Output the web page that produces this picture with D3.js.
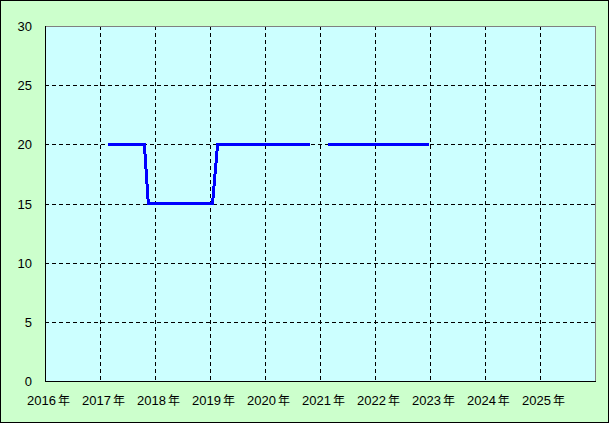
<!DOCTYPE html>
<html><head><meta charset="utf-8">
<script src="https://cdn.jsdelivr.net/npm/d3@7"></script>
<style>body{margin:0;padding:0;background:#fff}svg{display:block}</style>
</head><body>
<svg id="c" width="610" height="424"></svg>
<script>
const yearTicks = ["2016","2017","2018","2019","2020","2021","2022","2023","2024","2025"];
const yearSuffix = "年";
const years = [2016,2017,2018,2019,2020,2021,2022,2023,2024,2025];
const yTicks = [0,5,10,15,20,25,30];
// monthly observations (date, value); null = gap
const dates = ["2017-02-23","2017-10-22","2017-11-17","2019-01-18","2019-02-20","2020-10-24","2020-11-20","2021-02-20","2022-12-24"];
const values = [20,20,15,15,20,20,null,20,20];

const svg = d3.select("#c");
const L=45,T=26,R=595,B=381;
svg.append("rect").attr("x",0.5).attr("y",0.5).attr("width",608).attr("height",422)
  .attr("fill","#ccffcc").attr("stroke","#000").attr("stroke-width",1);
const x = d3.scaleTime().domain([new Date(2016,0,1),new Date(2026,0,1)]).range([L,R]);
const y = d3.scaleLinear().domain([0,30]).range([B,T]);
svg.append("rect").attr("x",L).attr("y",T).attr("width",R-L).attr("height",B-T).attr("fill","#ccffff");
// grid
const g = svg.append("g");
g.selectAll("line.v").data(years.slice(1)).join("line")
  .attr("x1",d=>Math.round(x(new Date(d,0,1)))+0.5).attr("x2",d=>Math.round(x(new Date(d,0,1)))+0.5)
  .attr("y1",T).attr("y2",B).attr("stroke","#000").attr("stroke-dasharray","4,3").attr("shape-rendering","crispEdges");
g.selectAll("line.h").data(yTicks.slice(1,-1)).join("line")
  .attr("y1",d=>Math.round(y(d))+0.5).attr("y2",d=>Math.round(y(d))+0.5)
  .attr("x1",L).attr("x2",R).attr("stroke","#000").attr("stroke-dasharray","4,3").attr("shape-rendering","crispEdges");
// frame
svg.append("line").attr("x1",L).attr("x2",R).attr("y1",T+0.5).attr("y2",T+0.5).attr("stroke","#808080");
svg.append("line").attr("x1",R+0.5).attr("x2",R+0.5).attr("y1",T).attr("y2",B).attr("stroke","#808080");
svg.append("line").attr("x1",L+0.5).attr("x2",L+0.5).attr("y1",T).attr("y2",B+1).attr("stroke","#000");
svg.append("line").attr("x1",L).attr("x2",R+1).attr("y1",B+0.5).attr("y2",B+0.5).attr("stroke","#000");
// line
const pts = dates.map((d,i)=>({d:new Date(d),v:values[i]}));
const line = d3.line().defined(p=>p.v!==null).x(p=>x(p.d)).y(p=>y(p.v));
svg.append("path").attr("d",line(pts)).attr("fill","none").attr("stroke","#0000ff")
  .attr("stroke-width",3).attr("shape-rendering","crispEdges");
// labels
const font = "'Liberation Sans','Noto Sans CJK JP',sans-serif";
svg.selectAll("text.y").data(yTicks).join("text")
  .attr("x",32).attr("y",d=>y(d)+5).attr("text-anchor","end")
  .attr("font-family",font).attr("font-size",13).attr("fill","#000").text(d=>d);
const xt = svg.selectAll("text.x").data(years).join("text")
  .attr("x",(d)=>x(new Date(d,0,1))-18).attr("y",405).attr("text-anchor","start")
  .attr("font-family",font).attr("fill","#000");
xt.append("tspan").attr("font-size",13).text((d,i)=>yearTicks[i]);
xt.append("tspan").attr("dx",2).attr("font-size",12).text(yearSuffix);
</script>
</body></html>
